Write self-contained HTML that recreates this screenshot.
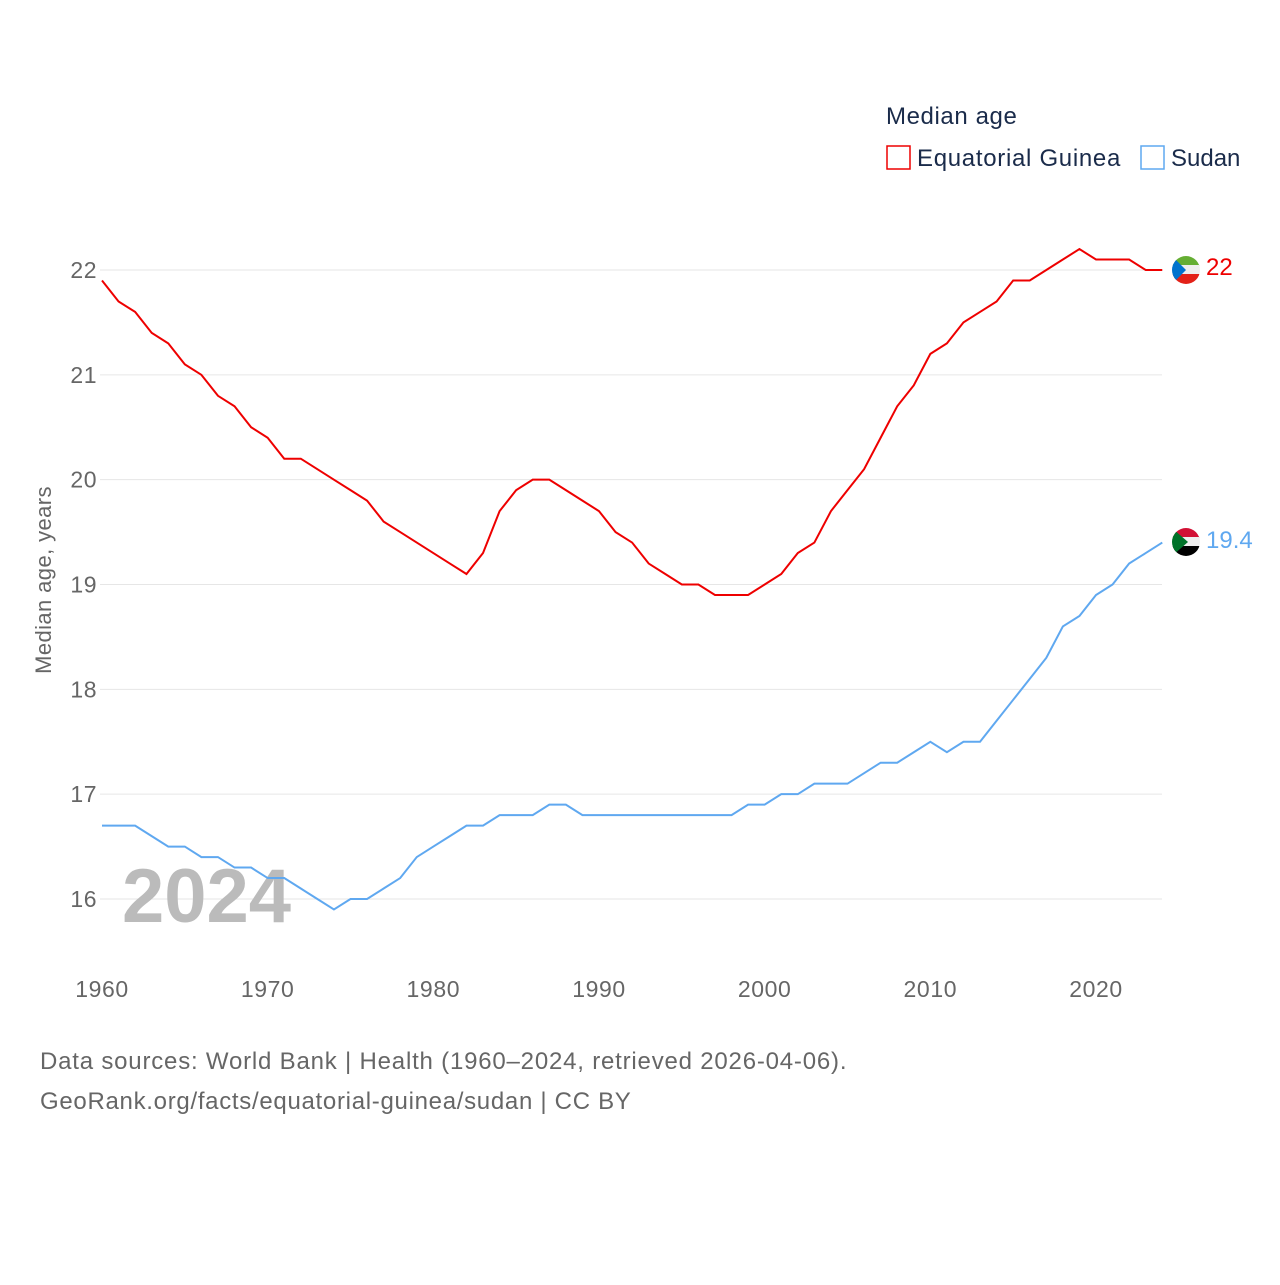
<!DOCTYPE html>
<html><head><meta charset="utf-8">
<style>
body{margin:0;background:#fff;font-family:"Liberation Sans",sans-serif;}
svg text{font-family:"Liberation Sans",sans-serif;}
</style></head>
<body>
<svg id="chart" width="1280" height="1280" xmlns="http://www.w3.org/2000/svg">
<g id="grid"></g>
<text transform="translate(51,580) rotate(-90)" text-anchor="middle" font-size="22" letter-spacing="0.4" fill="#666">Median age, years</text>
<text x="122" y="922" font-size="76" font-weight="bold" fill="#bbb">2024</text>
<g id="lines"></g>
<text x="886" y="124" font-size="24" letter-spacing="0.6" fill="#1a2b4a">Median age</text>
<g>
<rect x="887" y="146" width="23" height="23" fill="none" stroke="#e00" stroke-width="1.5"/>
<text x="917" y="166" font-size="24" letter-spacing="0.7" fill="#1a2b4a">Equatorial Guinea</text></g>
<g>
<rect x="1141" y="146" width="23" height="23" fill="none" stroke="#5fa8f0" stroke-width="1.5"/>
<text x="1171" y="166" font-size="24" fill="#1a2b4a">Sudan</text></g>
<g>
<clipPath id="c1"><circle cx="1186" cy="270" r="14"/></clipPath>
<g clip-path="url(#c1)"><rect x="1172" y="256" width="28" height="10" fill="#3e9a00" opacity="0.8"/><rect x="1172" y="265" width="28" height="10" fill="#eee"/><rect x="1172" y="274" width="28" height="10" fill="#e32118"/><polygon points="1172,256 1186,270 1172,284" fill="#0073ce"/></g></g>
<g>
<clipPath id="c2"><circle cx="1186" cy="542" r="14"/></clipPath>
<g clip-path="url(#c2)"><rect x="1172" y="528" width="28" height="10" fill="#d21034"/><rect x="1172" y="537" width="28" height="10" fill="#eee"/><rect x="1172" y="546" width="28" height="10" fill="#000"/><polygon points="1172,528 1188,542 1172,556" fill="#007229"/></g></g>
<text x="1206" y="275" font-size="24" fill="#e00">22</text>
<text x="1206" y="548" font-size="24" fill="#5fa8f0">19.4</text>
<text x="40" y="1069" font-size="24" letter-spacing="0.8" fill="#666">Data sources: World Bank | Health (1960–2024, retrieved 2026-04-06).</text>
<text x="40" y="1109" font-size="24" letter-spacing="0.7" fill="#666">GeoRank.org/facts/equatorial-guinea/sudan | CC BY</text>
</svg>
<script>
const years=[];for(let y=1960;y<=2024;y++)years.push(y);
const eqGuinea=[21.9,21.7,21.6,21.4,21.3,21.1,21.0,20.8,20.7,20.5,20.4,20.2,20.2,20.1,20.0,19.9,19.8,19.6,19.5,19.4,19.3,19.2,19.1,19.3,19.7,19.9,20.0,20.0,19.9,19.8,19.7,19.5,19.4,19.2,19.1,19.0,19.0,18.9,18.9,18.9,19.0,19.1,19.3,19.4,19.7,19.9,20.1,20.4,20.7,20.9,21.2,21.3,21.5,21.6,21.7,21.9,21.9,22.0,22.1,22.2,22.1,22.1,22.1,22.0,22.0];
const sudan=[16.7,16.7,16.7,16.6,16.5,16.5,16.4,16.4,16.3,16.3,16.2,16.2,16.1,16.0,15.9,16.0,16.0,16.1,16.2,16.4,16.5,16.6,16.7,16.7,16.8,16.8,16.8,16.9,16.9,16.8,16.8,16.8,16.8,16.8,16.8,16.8,16.8,16.8,16.8,16.9,16.9,17.0,17.0,17.1,17.1,17.1,17.2,17.3,17.3,17.4,17.5,17.4,17.5,17.5,17.7,17.9,18.1,18.3,18.6,18.7,18.9,19.0,19.2,19.3,19.4];
const yTicks=[16,17,18,19,20,21,22];
const xTicks=[1960,1970,1980,1990,2000,2010,2020];
const NS="http://www.w3.org/2000/svg";
const xS=y=>102+(y-1960)*(994/60);
const yS=v=>270+(22-v)*(629/6);
const grid=document.getElementById('grid');
yTicks.forEach(t=>{
 const l=document.createElementNS(NS,'line');
 
 
 l.setAttribute('x1',100);l.setAttribute('x2',1162);l.setAttribute('y1',yS(t));l.setAttribute('y2',yS(t));
 l.setAttribute('stroke','#e6e6e6');l.setAttribute('stroke-width',1);grid.appendChild(l);
 const tx=document.createElementNS(NS,'text');
 
 
 tx.setAttribute('x',97);tx.setAttribute('y',yS(t)+8);tx.setAttribute('text-anchor','end');
 tx.setAttribute('font-size',23);tx.setAttribute('letter-spacing','0.5');tx.setAttribute('fill','#666');tx.textContent=t;grid.appendChild(tx);
});
xTicks.forEach(t=>{
 const tx=document.createElementNS(NS,'text');
 
 
 tx.setAttribute('x',xS(t));tx.setAttribute('y',997);tx.setAttribute('text-anchor','middle');
 tx.setAttribute('font-size',23);tx.setAttribute('letter-spacing','0.6');tx.setAttribute('fill','#666');tx.textContent=t;grid.appendChild(tx);
});
const lines=document.getElementById('lines');
function draw(vals,color,name){
 const p=document.createElementNS(NS,'polyline');
 
 
 p.setAttribute('points',vals.map((v,i)=>xS(years[i])+','+yS(v)).join(' '));
 p.setAttribute('fill','none');p.setAttribute('stroke',color);p.setAttribute('stroke-width',2);
 lines.appendChild(p);
}
draw(eqGuinea,'#ee0000','line-equatorial-guinea');
draw(sudan,'#5fa8f0','line-sudan');
</script>
</body></html>
